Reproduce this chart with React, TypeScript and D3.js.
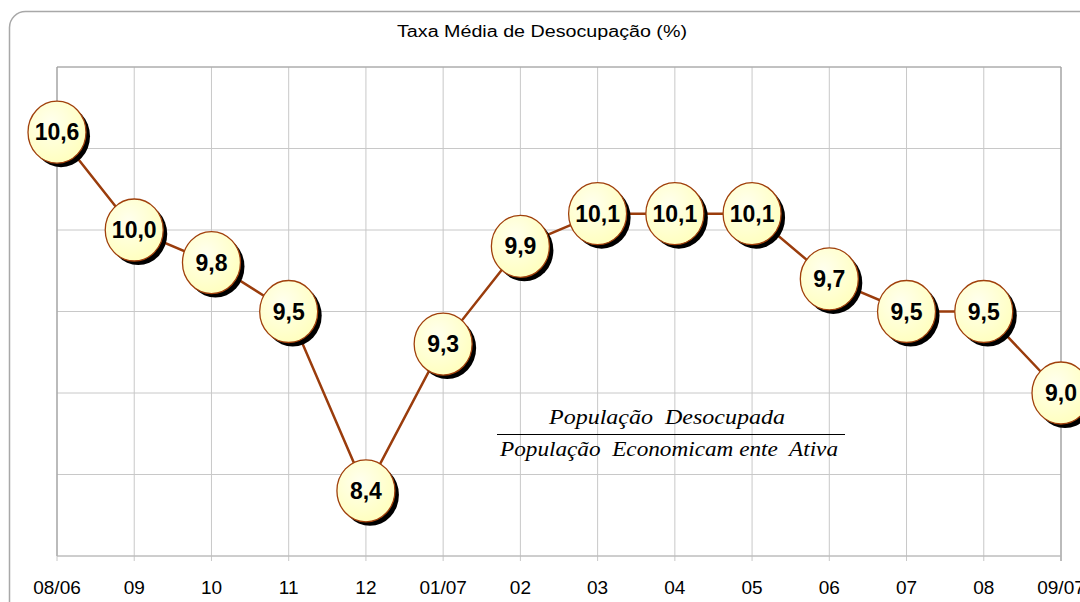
import React, { useEffect, useRef } from 'react';
import * as d3 from 'd3';

const categories = ['08/06', '09', '10', '11', '12', '01/07', '02', '03', '04', '05', '06', '07', '08', '09/07'];
const values = [10.6, 10.0, 9.8, 9.5, 8.4, 9.3, 9.9, 10.1, 10.1, 10.1, 9.7, 9.5, 9.5, 9.0];
const yTicks = [8, 8.5, 9, 9.5, 10, 10.5, 11];
const title = 'Taxa Média de Desocupação (%)';
const numerator = 'População  Desocupada';
const denominator = 'População  Economicam ente  Ativa';

const App: React.FC = () => {
  const ref = useRef<SVGSVGElement>(null);

  useEffect(() => {
    document.body.style.margin = '0';
    if (!ref.current) return;
    const svg = d3.select(ref.current);
    svg.selectAll('*').remove();

    const left = 57, right = 1061, top = 67, bottom = 556;

    const x = d3.scalePoint<string>().domain(categories).range([left, right]);
    const y = d3.scaleLinear().domain([8, 11]).range([bottom, top]);

    const defs = svg.append('defs');
    const grad = defs.append('radialGradient').attr('id', 'bub').attr('cx', '40%').attr('cy', '35%').attr('r', '65%');
    grad.append('stop').attr('offset', '0%').attr('stop-color', '#ffffee');
    grad.append('stop').attr('offset', '100%').attr('stop-color', '#ffffc0');

    // outer frame
    svg.append('rect')
      .attr('x', 9.5).attr('y', 11.5)
      .attr('width', 1085).attr('height', 620)
      .attr('rx', 16)
      .attr('fill', 'none')
      .attr('stroke', '#a8a8a8')
      .attr('stroke-width', 1.5);

    // title
    svg.append('text')
      .attr('x', 397).attr('y', 37)
      .attr('textLength', 290)
      .attr('lengthAdjust', 'spacingAndGlyphs')
      .style('font-family', 'Liberation Sans, Arial, sans-serif')
      .style('font-size', '16px')
      .attr('fill', '#000')
      .text(title);

    // grid
    svg.selectAll('.hgrid')
      .data(yTicks)
      .enter()
      .append('line')
      .attr('x1', left).attr('x2', right)
      .attr('y1', d => y(d)).attr('y2', d => y(d))
      .attr('stroke', '#c8c8c8').attr('stroke-width', 1);

    svg.selectAll('.vgrid')
      .data(categories)
      .enter()
      .append('line')
      .attr('x1', d => x(d)!).attr('x2', d => x(d)!)
      .attr('y1', top).attr('y2', bottom + 5)
      .attr('stroke', '#c8c8c8').attr('stroke-width', 1);

    // plot border
    svg.append('line').attr('x1', left).attr('x2', right).attr('y1', top).attr('y2', top).attr('stroke', '#a0a0a0').attr('stroke-width', 1.2);
    svg.append('line').attr('x1', left).attr('x2', left).attr('y1', top).attr('y2', bottom).attr('stroke', '#a0a0a0').attr('stroke-width', 1.2);
    svg.append('line').attr('x1', right).attr('x2', right).attr('y1', top).attr('y2', bottom + 5).attr('stroke', '#a0a0a0').attr('stroke-width', 1.2);
    svg.append('line').attr('x1', left).attr('x2', right).attr('y1', bottom).attr('y2', bottom).attr('stroke', '#b8b8b8').attr('stroke-width', 1.2);

    // x tick labels
    svg.selectAll('.xlab')
      .data(categories)
      .enter()
      .append('text')
      .attr('x', d => x(d)!)
      .attr('y', 594)
      .attr('text-anchor', 'middle')
      .style('font-family', 'Liberation Sans, Arial, sans-serif')
      .style('font-size', '19px')
      .attr('fill', '#000')
      .text(d => d);

    // fraction
    svg.append('text')
      .attr('x', 549).attr('y', 424)
      .attr('textLength', 236)
      .attr('lengthAdjust', 'spacingAndGlyphs')
      .style('font-family', 'Liberation Serif, serif')
      .style('font-style', 'italic')
      .style('font-size', '20px')
      .style('white-space', 'pre')
      .attr('fill', '#000')
      .text(numerator);
    svg.append('line')
      .attr('x1', 497).attr('x2', 845)
      .attr('y1', 434.5).attr('y2', 434.5)
      .attr('stroke', '#000').attr('stroke-width', 1.2);
    svg.append('text')
      .attr('x', 500).attr('y', 456)
      .attr('textLength', 338)
      .attr('lengthAdjust', 'spacingAndGlyphs')
      .style('font-family', 'Liberation Serif, serif')
      .style('font-style', 'italic')
      .style('font-size', '20px')
      .style('white-space', 'pre')
      .attr('fill', '#000')
      .text(denominator);

    // line
    const line = d3.line<number>()
      .x((_, i) => x(categories[i])!)
      .y(d => y(d));
    svg.append('path')
      .datum(values)
      .attr('d', line)
      .attr('fill', 'none')
      .attr('stroke', '#9a3c0c')
      .attr('stroke-width', 2.5);

    // bubbles
    const g = svg.selectAll('.pt')
      .data(values)
      .enter()
      .append('g')
      .attr('transform', (d, i) => `translate(${x(categories[i])},${y(d)})`);

    g.append('ellipse')
      .attr('cx', 4).attr('cy', 4)
      .attr('rx', 29).attr('ry', 31)
      .attr('fill', '#000');
    g.append('ellipse')
      .attr('rx', 29).attr('ry', 31)
      .attr('fill', 'url(#bub)')
      .attr('stroke', '#a0400c')
      .attr('stroke-width', 1.3);
    g.append('text')
      .attr('y', 8)
      .attr('text-anchor', 'middle')
      .style('font-family', 'Liberation Sans Narrow, Arial Narrow, Liberation Sans, sans-serif')
      .style('font-weight', 'bold')
      .style('font-size', '23px')
      .attr('fill', '#000')
      .text(d => d.toFixed(1).replace('.', ','));
  }, []);

  return <svg ref={ref} width={1080} height={602} style={{ display: 'block' }} />;
};

export default App;
